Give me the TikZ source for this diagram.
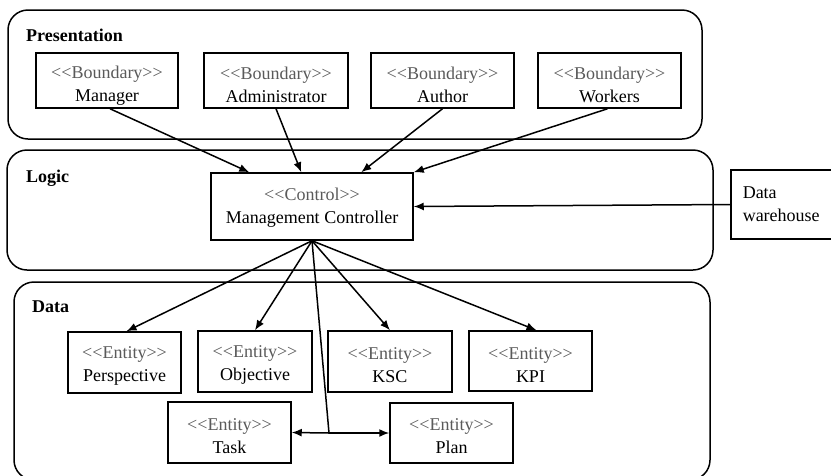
\documentclass[tikz,border=0pt]{standalone}
\usepackage{fontspec}
\setmainfont{Liberation Serif}[Ligatures=TeXOff]
\usetikzlibrary{arrows.meta,calc}
\definecolor{stereo}{HTML}{5A5A5A}
\newcommand{\sttext}[2]{\rule{0pt}{#1}\textcolor{stereo}{#2}}
\begin{document}
\begin{tikzpicture}[x=1pt,y=-1pt,
  every node/.style={font=\fontsize{18}{23}\selectfont},
  layer/.style={draw,line width=1.5pt,rounded corners=20pt},
  lbl/.style={anchor=base west,inner sep=0pt,font=\fontsize{18}{23}\selectfont\bfseries},
  umlbox/.style={draw,line width=1.5pt,align=center,inner sep=0pt},
  arr/.style={line width=1.5pt,-{Latex[length=10pt,width=8pt]}},
  plain/.style={line width=1.5pt}
]
\useasboundingbox (0,0) rectangle (831,475);
% containers
\draw[layer] (8,10) rectangle (702,139);
\draw[layer] (7,150) rectangle (713,270);
\draw[layer] (14,282) rectangle (710,480);
\node[lbl] (lp) at (26,41) {Presentation};
\node[lbl] (ll) at (26,182) {Logic};
\node[lbl] (ld) at (32,312) {Data};
% presentation boxes
\node[umlbox,minimum width=142pt,minimum height=55pt] (man) at (107,80.5) {\sttext{22pt}{<<Boundary>>}\\Manager};
\node[umlbox,minimum width=144pt,minimum height=55pt] (adm) at (276,80.5) {\sttext{22pt}{<<Boundary>>}\\Administrator};
\node[umlbox,minimum width=143pt,minimum height=55pt] (aut) at (442.5,80.5) {\sttext{22pt}{<<Boundary>>}\\Author};
\node[umlbox,minimum width=143pt,minimum height=55pt] (wor) at (609.5,80.5) {\sttext{22pt}{<<Boundary>>}\\Workers};
% logic
\node[umlbox,minimum width=202pt,minimum height=67pt] (ctrl) at (312,206.5) {\sttext{15pt}{<<Control>>}\\Management Controller};
\node[draw,line width=1.5pt,align=left,text width=77pt,inner xsep=12pt,inner ysep=0pt,minimum height=69pt,anchor=west] (dw) at (730,204.5) {Data\\warehouse};
% data
\node[umlbox,minimum width=113pt,minimum height=61pt] (per) at (124.5,362.5) {\sttext{19pt}{<<Entity>>}\\Perspective};
\node[umlbox,minimum width=114pt,minimum height=61pt] (obj) at (255,361.5) {\sttext{19pt}{<<Entity>>}\\Objective};
\node[umlbox,minimum width=124pt,minimum height=61pt] (ksc) at (390,361.5) {\sttext{19pt}{<<Entity>>}\\KSC};
\node[umlbox,minimum width=123pt,minimum height=60pt] (kpi) at (530.5,361) {\sttext{19pt}{<<Entity>>}\\KPI};
\node[umlbox,minimum width=123pt,minimum height=61pt] (task) at (229.5,432.5) {\sttext{19pt}{<<Entity>>}\\Task};
\node[umlbox,minimum width=123pt,minimum height=60pt] (plan) at (451.5,433) {\sttext{19pt}{<<Entity>>}\\Plan};
% connectors presentation -> logic
\draw[arr] ($(man.south)+(3,0)$) -- ($(ctrl.north west)+(39,0)$);
\draw[arr] (adm.south) -- ($(ctrl.north west)+(91,0)$);
\draw[arr] (aut.south) -- ($(ctrl.north west)+(151,0)$);
\draw[arr] ($(wor.south)+(-2,0)$) -- (ctrl.north east);
\draw[arr] (dw.west) -- (ctrl.east);
% logic -> data
\draw[arr] (ctrl.south) -- ($(per.north)+(2,0)$);
\draw[arr] (ctrl.south) -- (obj.north);
\draw[arr] (ctrl.south) -- (ksc.north);
\draw[arr] (ctrl.south) -- ($(kpi.north)+(6,0)$);
\coordinate (j) at (329,433);
\draw[plain] (ctrl.south) -- (j);
\draw[arr] (j) -- (task.east);
\draw[arr] (j) -- (plan.west);
\end{tikzpicture}
\end{document}
